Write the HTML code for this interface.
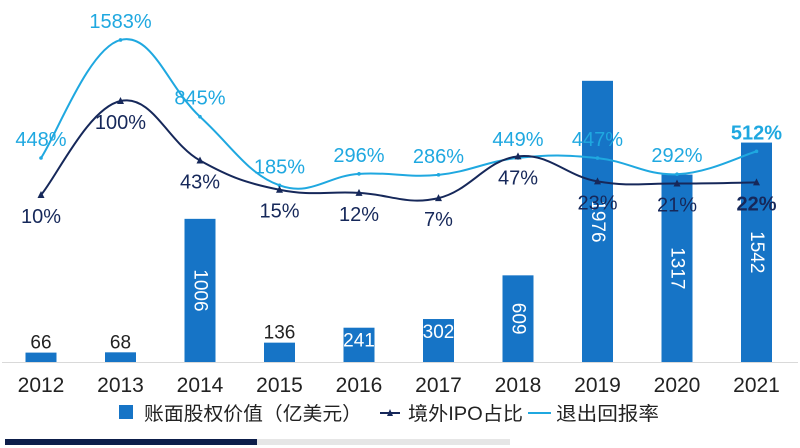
<!DOCTYPE html>
<html><head><meta charset="utf-8"><style>
body{margin:0;background:#fff;}
svg{display:block;font-family:"Liberation Sans","Noto Sans CJK SC",sans-serif;}
</style></head><body>
<svg id="c" width="800" height="448"></svg>
<script>
const years=["2012","2013","2014","2015","2016","2017","2018","2019","2020","2021"];
const bookValue=[66,68,1006,136,241,302,609,1976,1317,1542];
const ipoShare=[10,100,43,15,12,7,47,23,21,22];
const exitReturn=[448,1583,845,185,296,286,449,447,292,512];
const legendLabels=["账面股权价值（亿美元）","境外IPO占比","退出回报率"];

const NS="http://www.w3.org/2000/svg";
const svg=document.getElementById('c');
function mk(tag,attrs,parent){const e=document.createElementNS(NS,tag);for(const k in attrs)e.setAttribute(k,attrs[k]);(parent||svg).appendChild(e);return e;}
const x=i=>41+i*79.5;
const yBar=v=>362-v*0.1423;
const yIpo=v=>205.4-v*1.044;
const yRet=v=>204.6-v*0.104;

bookValue.forEach((v,i)=>{
  const top=yBar(v);
  const r=mk('rect',{x:x(i)-15.5,y:top,width:31,height:362-top,fill:'#1674c6'});
  
  
  let t;
  if(v>=500){
    const cy=(top+362)/2;
    t=mk('text',{x:x(i),y:cy,fill:'#fff','font-size':19,'text-anchor':'middle','dominant-baseline':'central',transform:`rotate(90 ${x(i)} ${cy})`});
  }else if(v>=200){
    t=mk('text',{x:x(i),y:top+19,fill:'#fff','font-size':19,'text-anchor':'middle'});
  }else{
    t=mk('text',{x:x(i),y:top-4,fill:'#222','font-size':19,'text-anchor':'middle'});
  }
  t.textContent=v;
  
  
});

function smooth(pts){
  let d=`M${pts[0][0]},${pts[0][1]}`;
  for(let i=0;i<pts.length-1;i++){
    const p0=pts[i-1]||pts[i],p1=pts[i],p2=pts[i+1],p3=pts[i+2]||p2;
    const t=0.2;
    d+=` C${p1[0]+(p2[0]-p0[0])*t},${p1[1]+(p2[1]-p0[1])*t} ${p2[0]-(p3[0]-p1[0])*t},${p2[1]-(p3[1]-p1[1])*t} ${p2[0]},${p2[1]}`;
  }
  return d;
}
const retPts=exitReturn.map((v,i)=>[x(i),yRet(v)]);
const ipoPts=ipoShare.map((v,i)=>[x(i),yIpo(v)]);
const rl=mk('path',{d:smooth(retPts),fill:'none',stroke:'#1fa8e0','stroke-width':2});


const il=mk('path',{d:smooth(ipoPts),fill:'none',stroke:'#16285a','stroke-width':2});



retPts.forEach((p,i)=>{
  const m=mk('circle',{cx:p[0],cy:p[1],r:1.8,fill:'#1fa8e0'});
  
  
  const t=mk('text',{x:p[0],y:p[1]-12,fill:'#1fa8e0','font-size':20,'text-anchor':'middle','font-weight':i==9?'bold':'normal'});
  t.textContent=exitReturn[i]+'%';
  
  
});
ipoPts.forEach((p,i)=>{
  const m=mk('path',{d:`M${p[0]-3.5},${p[1]+3} L${p[0]+3.5},${p[1]+3} L${p[0]},${p[1]-4} Z`,fill:'#16285a'});
  
  
  const t=mk('text',{x:p[0],y:p[1]+28,fill:'#16285a','font-size':20,'text-anchor':'middle','font-weight':i==9?'bold':'normal'});
  t.textContent=ipoShare[i]+'%';
  
  
});

const ax=mk('line',{x1:2,x2:798,y1:362.5,y2:362.5,stroke:'#d9d9d9','stroke-width':1});


years.forEach((y,i)=>{
  const t=mk('text',{x:x(i),y:392,fill:'#222','font-size':21,'text-anchor':'middle'});
  t.textContent=y;
  
  
});

const lg=mk('g',{});


mk('rect',{x:119,y:405,width:14,height:14,fill:'#1674c6'},lg);
let t0=mk('text',{x:144,y:420,'font-size':19,fill:'#222',textLength:218,lengthAdjust:'spacingAndGlyphs'},lg);t0.textContent=legendLabels[0];
mk('line',{x1:380,x2:400,y1:413,y2:413,stroke:'#16285a','stroke-width':2},lg);
mk('path',{d:'M387,416 L393,416 L390,409 Z',fill:'#16285a'},lg);
let t1=mk('text',{x:408,y:420,'font-size':19,fill:'#222',textLength:115,lengthAdjust:'spacingAndGlyphs'},lg);t1.textContent=legendLabels[1];
mk('line',{x1:528,x2:551,y1:413,y2:413,stroke:'#1fa8e0','stroke-width':2},lg);
let t2=mk('text',{x:556,y:420,'font-size':19,fill:'#222',textLength:103,lengthAdjust:'spacingAndGlyphs'},lg);t2.textContent=legendLabels[2];

mk('rect',{x:5,y:439,width:252,height:6,fill:'#0d1e4a'});
mk('rect',{x:257,y:439,width:253,height:6,fill:'#e6e6e6'});
</script>
</body></html>
